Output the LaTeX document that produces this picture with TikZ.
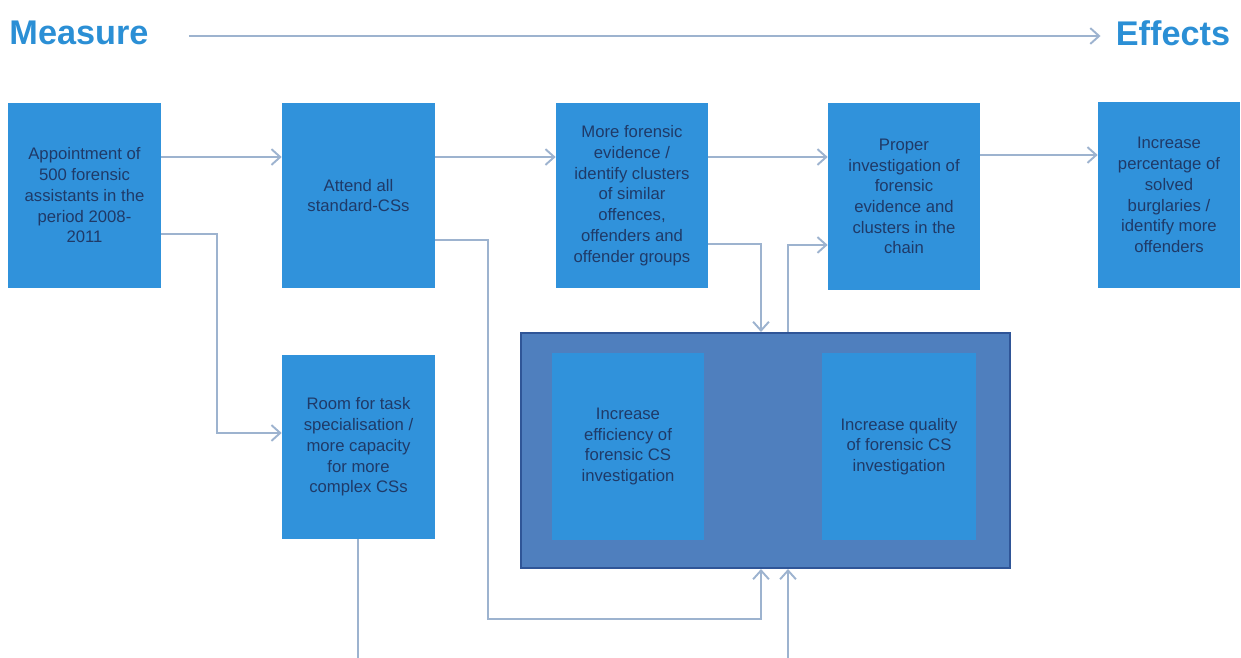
\documentclass[tikz,border=0pt]{standalone}
\usepackage{fontspec}
\setmainfont{Liberation Sans}
\usetikzlibrary{arrows.meta,calc}
\definecolor{boxblue}{HTML}{3092DB}
\definecolor{outerblue}{HTML}{4F7FBE}
\definecolor{outerline}{HTML}{2F5597}
\definecolor{navy}{HTML}{1F3A68}
\definecolor{connc}{HTML}{9DB3CF}
\definecolor{titleblue}{HTML}{2B8FD5}
\begin{document}
\begin{tikzpicture}[x=0.02cm,y=-0.02cm,
  box/.style={fill=boxblue,text=navy,align=center,inner sep=0pt,
    font=\fontsize{9.5}{11.8}\selectfont,
    minimum width=3.06cm,minimum height=3.70cm},
  outerbox/.style={fill=outerblue,draw=outerline,line width=1.2pt,inner sep=0pt,
    minimum width=9.78cm,minimum height=4.70cm},
  title/.style={text=titleblue,inner sep=0pt,font=\fontsize{19.5}{22}\selectfont\bfseries},
  conn/.style={draw=connc,line width=1.1pt},
  arr/.style={conn,-{Straight Barb[length=5pt,width=9pt,line width=1.1pt]}}]
\useasboundingbox (0,0) rectangle (1241,658);
\clip (0,0) rectangle (1241,658);

% titles
\node[title] (M) at (79,33) {Measure};
\node[title] (Ef) at (1173,33) {Effects};
\draw[arr] ([xshift=0.8cm,yshift=-0.06cm]M.east) coordinate (h0) -- (h0 -| {$(Ef.west)+(-0.3cm,0)$});

% boxes
\node[box] (A) at (84.5,195.5) {Appointment of\\500 forensic\\assistants in the\\period 2008-\\2011};
\node[box] (B) at (358.5,195.5) {Attend all\\standard-CSs};
\node[box,minimum width=3.04cm] (C) at (632,195.5) {More forensic\\evidence /\\identify clusters\\of similar\\offences,\\offenders and\\offender groups};
\node[box,minimum width=3.04cm,minimum height=3.74cm] (D) at (904,196.5) {Proper\\investigation of\\forensic\\evidence and\\clusters in the\\chain};
\node[box,minimum width=2.84cm,minimum height=3.72cm] (E) at (1169,195) {Increase\\percentage of\\solved\\burglaries /\\identify more\\offenders};
\node[box,minimum height=3.68cm] (F) at (358.5,447) {Room for task\\specialisation /\\more capacity\\for more\\complex CSs};

\node[outerbox] (O) at (765.5,450.5) {};
\node[box,minimum width=3.04cm,minimum height=3.74cm] (G) at (628,446.5) {Increase\\efficiency of\\forensic CS\\investigation};
\node[box,minimum width=3.08cm,minimum height=3.74cm] (H) at (899,446.5) {Increase quality\\of forensic CS\\investigation};

% connectors
\draw[arr] ([yshift=0.77cm]A.east) coordinate (s1) -- (s1 -| B.west);
\coordinate (k2) at (217,433);
\draw[arr] ([yshift=-0.77cm]A.east) -| (k2) -- (k2 -| F.west);
\draw[arr] ([yshift=0.77cm]B.east) coordinate (s3) -- (s3 -| C.west);
\coordinate (k4a) at (488,619);
\draw[arr] ([yshift=-0.89cm]B.east) -| (k4a) -| ([xshift=-0.09cm]O.south);
\draw[arr] ([yshift=0.77cm]C.east) coordinate (s5) -- (s5 -| D.west);
\draw[arr] ([yshift=-0.97cm]C.east) -| ([xshift=-0.09cm]O.north);
\draw[arr] ([xshift=0.45cm]O.north) |- ([yshift=-0.97cm]D.west);
\draw[arr] ([yshift=0.83cm]D.east) coordinate (s8) -- (s8 -| E.west);
\coordinate (k9) at (358,690);
\draw[arr] ([xshift=-0.01cm]F.south) coordinate (s9) -- (s9 |- k9) -| ([xshift=0.45cm]O.south);
\end{tikzpicture}
\end{document}
